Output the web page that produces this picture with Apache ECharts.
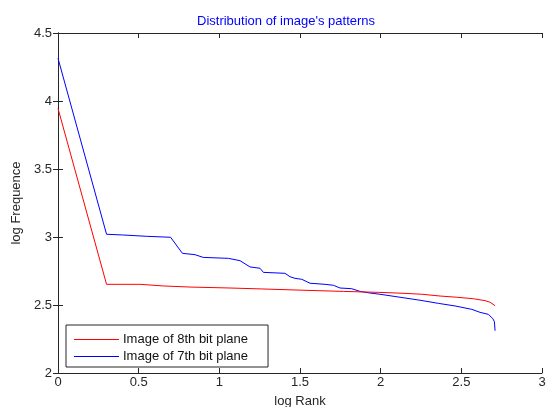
<!DOCTYPE html>
<html>
<head>
<meta charset="utf-8">
<script src="https://cdn.jsdelivr.net/npm/echarts@6/dist/echarts.min.js"></script>
<style>
  html, body { margin: 0; padding: 0; background: #fff; overflow: hidden; }
  #chart { width: 547px; height: 407px; }
</style>
</head>
<body>
<div id="chart"></div>
<script>
// log10 rank positions and log10 frequencies of the pattern histograms
const rank8 = [0, 0.301, 0.508, 0.51, 0.57, 0.575, 0.653, 0.66, 0.818, 0.82, 1.066, 1.07, 1.263, 1.27, 1.562, 1.565, 1.769, 1.772, 1.986, 1.99, 2.145, 2.15, 2.255, 2.368, 2.472, 2.575, 2.647, 2.678, 2.709];
const freq8 = [3.945, 2.652, 2.652, 2.647, 2.647, 2.64, 2.64, 2.632, 2.632, 2.625, 2.625, 2.618, 2.618, 2.61, 2.607, 2.60, 2.60, 2.593, 2.593, 2.586, 2.586, 2.579, 2.579, 2.566, 2.557, 2.546, 2.532, 2.52, 2.495];

const rank7 = [0, 0.301, 0.4, 0.55, 0.698, 0.771, 0.849, 0.90, 1.056, 1.128, 1.19, 1.252, 1.273, 1.407, 1.438, 1.469, 1.511, 1.562, 1.655, 1.707, 1.748, 1.82, 1.872, 1.934, 1.996, 2.058, 2.12, 2.244, 2.358, 2.461, 2.565, 2.616, 2.668, 2.695, 2.705, 2.709];
const freq7 = [4.314, 3.02, 3.015, 3.005, 2.998, 2.88, 2.87, 2.85, 2.843, 2.826, 2.78, 2.77, 2.74, 2.733, 2.708, 2.696, 2.689, 2.66, 2.652, 2.645, 2.625, 2.62, 2.60, 2.588, 2.579, 2.568, 2.557, 2.535, 2.512, 2.493, 2.468, 2.446, 2.431, 2.40, 2.377, 2.311];

const seriesNames = ['Image of 8th bit plane', 'Image of 7th bit plane'];
const seriesColors = ['#ff0000', '#0000ff'];
const xTicks = { min: 0, max: 3, step: 0.5 };
const yTicks = { min: 2, max: 4.5, step: 0.5 };

const pairs = (xs, ys) => xs.map((x, i) => [x, ys[i]]);

const axisColor = '#262626';
const fontFamily = 'Arial, "Liberation Sans", sans-serif';

const chart = echarts.init(document.getElementById('chart'), null, { renderer: 'canvas' });

const boxAxis = (extra) => Object.assign({
  type: 'value',
  axisLine: { show: true, lineStyle: { color: axisColor, width: 1 } },
  axisTick: { show: true, inside: true, length: 5, lineStyle: { color: axisColor } },
  splitLine: { show: false },
  axisLabel: { show: false }
}, extra);

chart.setOption({
  animation: false,
  backgroundColor: '#ffffff',
  color: seriesColors,
  title: {
    text: "Distribution of image's patterns",
    left: 192,
    top: 10,
    textStyle: { color: '#0000ff', fontSize: 13, fontWeight: 'normal', fontFamily: fontFamily }
  },
  grid: { left: 58, top: 33, width: 484, height: 340, containLabel: false, outerBoundsMode: 'none' },
  legend: {
    orient: 'vertical',
    left: 66,
    top: 325,
    padding: [8, 20, 4, 8],
    itemGap: 4,
    itemWidth: 45,
    itemHeight: 1,
    icon: 'rect',
    borderColor: axisColor,
    borderWidth: 1,
    backgroundColor: '#ffffff',
    textStyle: { color: '#111', fontSize: 13, fontFamily: fontFamily, padding: [0, 0, 0, -1] },
    data: seriesNames.map((n, i) => ({ name: n, itemStyle: { color: seriesColors[i] } }))
  },
  xAxis: [
    boxAxis({
      min: xTicks.min, max: xTicks.max, interval: xTicks.step,
      position: 'bottom',
      name: 'log Rank', nameLocation: 'middle', nameGap: 22,
      nameTextStyle: { color: axisColor, fontSize: 13, fontFamily: fontFamily },
      axisLabel: { show: true, color: axisColor, fontSize: 13, fontFamily: fontFamily, margin: 3 }
    }),
    boxAxis({ min: xTicks.min, max: xTicks.max, interval: xTicks.step, position: 'top' })
  ],
  yAxis: [
    boxAxis({
      min: yTicks.min, max: yTicks.max, interval: yTicks.step,
      position: 'left',
      name: 'log Frequence', nameLocation: 'middle', nameGap: 34,
      nameTextStyle: { color: axisColor, fontSize: 13, fontFamily: fontFamily },
      axisLabel: { show: true, color: axisColor, fontSize: 13, fontFamily: fontFamily, margin: 6 }
    }),
    boxAxis({ min: yTicks.min, max: yTicks.max, interval: yTicks.step, position: 'right' })
  ],
  series: [
    {
      name: seriesNames[0], type: 'line', showSymbol: false, symbol: 'none',
      lineStyle: { color: seriesColors[0], width: 1 }, itemStyle: { color: seriesColors[0] },
      data: pairs(rank8, freq8), z: 3
    },
    {
      name: seriesNames[1], type: 'line', showSymbol: false, symbol: 'none',
      lineStyle: { color: seriesColors[1], width: 1 }, itemStyle: { color: seriesColors[1] },
      data: pairs(rank7, freq7), z: 2
    }
  ]
});
</script>
</body>
</html>
